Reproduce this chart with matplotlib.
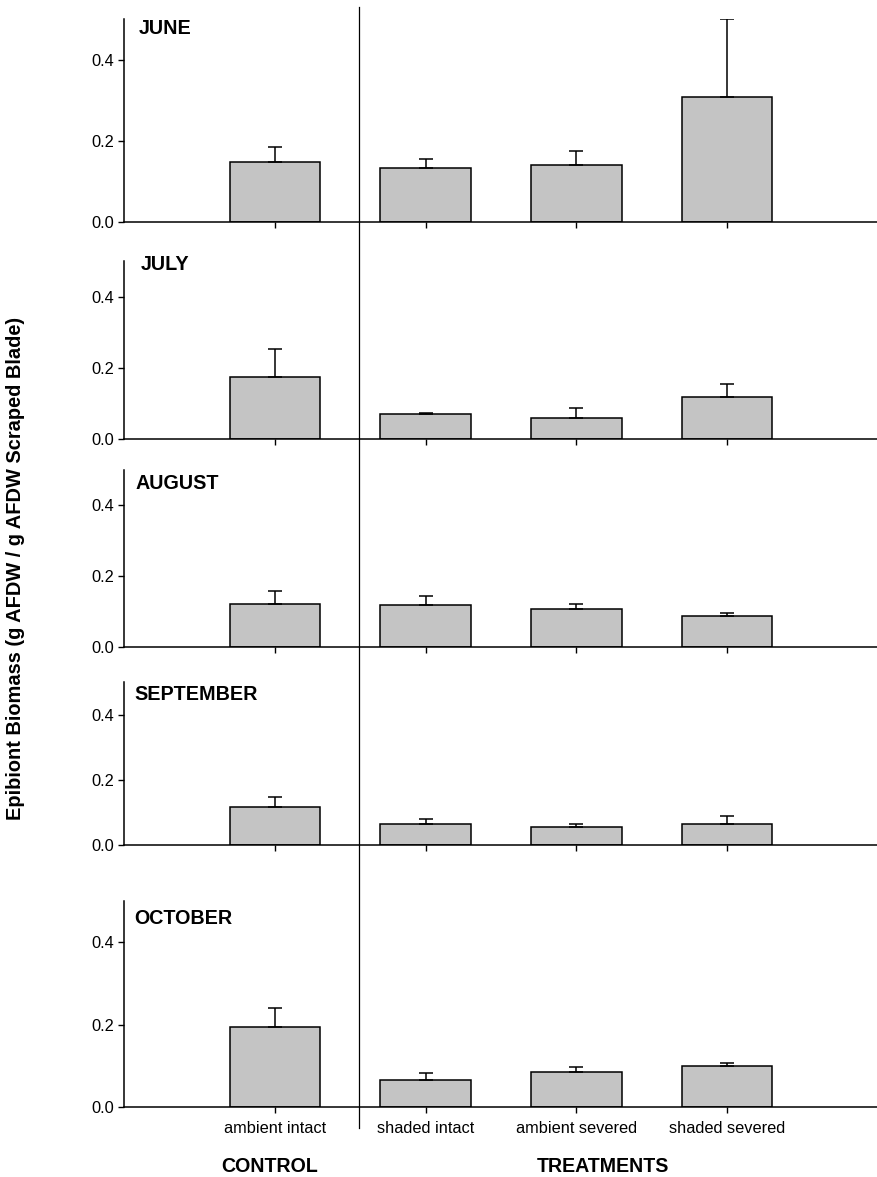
import matplotlib
matplotlib.use("Agg")
import matplotlib.pyplot as plt
from matplotlib.lines import Line2D
import numpy as np

plt.rcParams['font.family'] = ['Liberation Sans', 'DejaVu Sans']

# ---------------- data ----------------
months = ["JUNE", "JULY", "AUGUST", "SEPTEMBER", "OCTOBER"]
categories = ["ambient intact", "shaded intact", "ambient severed", "shaded severed"]
groups = ["CONTROL", "TREATMENTS"]

june_vals = [0.148, 0.134, 0.141, 0.309]
june_err = [0.036, 0.020, 0.034, 0.190]
july_vals = [0.173, 0.070, 0.059, 0.117]
july_err = [0.079, 0.003, 0.028, 0.037]
aug_vals = [0.122, 0.119, 0.108, 0.088]
aug_err = [0.037, 0.026, 0.014, 0.009]
sep_vals = [0.117, 0.065, 0.055, 0.065]
sep_err = [0.031, 0.015, 0.008, 0.023]
oct_vals = [0.194, 0.065, 0.085, 0.099]
oct_err = [0.046, 0.017, 0.012, 0.008]

yticks = [0.0, 0.2, 0.4]
ytick_labels = ["0.0", "0.2", "0.4"]

all_vals = [june_vals, july_vals, aug_vals, sep_vals, oct_vals]
all_err = [june_err, july_err, aug_err, sep_err, oct_err]

# ---------------- layout ----------------
W, H = 878, 1177
fig = plt.figure(figsize=(W / 100, H / 100), dpi=100)

left_px, right_px = 124, 878
panel_px = [(19, 222), (261, 439), (470, 647), (682, 845), (901, 1107)]
label_off = [(15, -10), (17, -4), (11, -13), (10, -13), (10, -18)]

x = np.arange(len(categories))
bar_face = '#c4c4c4'
axes = []
for i, (month, vals, errs) in enumerate(zip(months, all_vals, all_err)):
    top, bot = panel_px[i]
    ax = fig.add_axes([left_px / W, 1 - bot / H, (right_px - left_px) / W, (bot - top) / H])
    axes.append(ax)
    ax.bar(x, vals, width=0.6, color=bar_face, edgecolor='black', linewidth=1.1, zorder=2)
    ax.errorbar(x, vals, yerr=[np.zeros(len(vals)), errs], fmt='none', ecolor='black',
                elinewidth=1.1, capsize=4.7, capthick=1.1, zorder=3)
    ax.set_xlim(-1, 4)
    ax.set_ylim(0, 0.5)
    ax.set_yticks(yticks)
    ax.set_yticklabels(ytick_labels)
    ax.set_xticks(x)
    if i == len(months) - 1:
        ax.set_xticklabels(categories)
    else:
        ax.set_xticklabels([])
    for s in ['top', 'right']:
        ax.spines[s].set_visible(False)
    for s in ['left', 'bottom']:
        ax.spines[s].set_linewidth(1.1)
    ax.tick_params(axis='y', direction='out', length=4.3, width=1.0, pad=2.5, labelsize=11.8)
    ax.tick_params(axis='x', direction='out', length=4.3, width=1.0, pad=6, labelsize=11.8)
    ax.patch.set_alpha(0)
    ax.annotate(month, xy=(0, 1), xycoords='axes fraction', xytext=label_off[i],
                textcoords='offset pixels', ha='left', va='center',
                fontsize=14.2, fontweight='bold')

# divider between control and treatments
fig.add_artist(Line2D([359 / W, 359 / W], [1 - 7 / H, 1 - 1128 / H],
                      transform=fig.transFigure, color='black', linewidth=0.9))

# group labels
fig.text(270 / W, 1 - 1166 / H, groups[0], ha='center', va='center',
         fontsize=14.1, fontweight='bold')
fig.text(603 / W, 1 - 1167 / H, groups[1], ha='center', va='center',
         fontsize=14.1, fontweight='bold')

# y label
fig.text(16 / W, 1 - 568 / H, "Epibiont Biomass (g AFDW / g AFDW Scraped Blade)",
         rotation=90, ha='center', va='center', fontsize=14.4, fontweight='bold')

fig.savefig("out.png", dpi=100)
